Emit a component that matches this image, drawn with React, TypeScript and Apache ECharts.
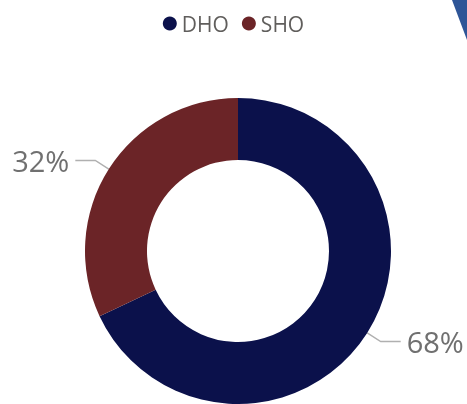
import React, { useEffect, useRef } from "react";
import * as echarts from "echarts";

const categories = ["DHO", "SHO"];
const values = [68, 32];
const colors = ["#0b114b", "#6b2427"];

export default function App() {
  const ref = useRef<HTMLDivElement>(null);
  useEffect(() => {
    const chart = echarts.init(ref.current!, null, { renderer: "svg" });
    chart.setOption({
      animation: false,
      color: colors,
      legend: {
        data: categories,
        top: 8,
        left: "center",
        icon: "circle",
        itemWidth: 14,
        itemHeight: 14,
        itemGap: 13,
        textStyle: { fontFamily: "Open Sans", fontSize: 21, color: "#605E5C" },
      },
      graphic: [
        {
          type: "polygon",
          shape: { points: [[452, 0], [467, 0], [467, 40]] },
          style: { fill: "#2e5597" },
        },
      ],
      series: [
        {
          type: "pie",
          center: [238, 251],
          radius: [91, 153],
          startAngle: 90,
          clockwise: true,
          avoidLabelOverlap: false,
          data: categories.map((c, i) => ({ name: c, value: values[i] })),
          itemStyle: { borderColor: "#ffffff", borderWidth: 0 },
          label: {
            show: true,
            position: "outside",
            formatter: "{d}%",
            fontFamily: "Open Sans",
            fontSize: 29,
            color: "#707070",
            overflow: "none",
            distanceToLabelLine: 6,
          },
          labelLine: {
            show: true,
            length: 16,
            length2: 20,
            smooth: false,
            lineStyle: { color: "#b0b0b0", width: 1.5 },
          },
          emphasis: { disabled: true },
        },
      ],
    });
    return () => chart.dispose();
  }, []);
  return (
    <div
      ref={ref}
      style={{ position: "fixed", left: 0, top: 0, width: 467, height: 404 }}
    />
  );
}
